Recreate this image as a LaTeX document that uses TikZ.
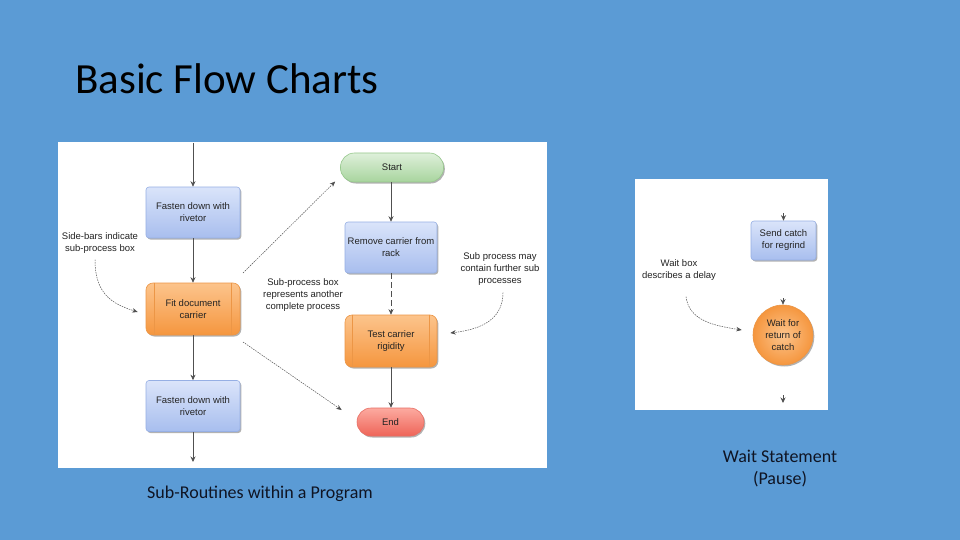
\documentclass[tikz,border=0pt]{standalone}
\usepackage{fontspec}
\setmainfont{Carlito}
\newfontfamily\diagfont{Liberation Sans}
\usetikzlibrary{arrows.meta,shadows,calc}
\definecolor{slidebg}{RGB}{91,155,213}
\definecolor{bluetop}{RGB}{218,228,250}
\definecolor{bluebot}{RGB}{168,190,238}
\definecolor{blueline}{RGB}{150,175,228}
\definecolor{orgtop}{RGB}{252,196,140}
\definecolor{orgbot}{RGB}{245,150,62}
\definecolor{orgline}{RGB}{236,150,70}
\definecolor{grntop}{RGB}{222,240,218}
\definecolor{grnbot}{RGB}{168,212,158}
\definecolor{grnline}{RGB}{150,200,140}
\definecolor{redtop}{RGB}{252,170,160}
\definecolor{redbot}{RGB}{238,100,88}
\definecolor{redline}{RGB}{232,110,100}
\definecolor{linegray}{RGB}{80,80,80}
\definecolor{txtgray}{RGB}{35,35,35}
\definecolor{captxt}{RGB}{15,20,35}
\tikzset{
  dtext/.style={font=\diagfont\fontsize{9.5}{12}\selectfont, text=txtgray, align=center, inner sep=1pt},
  shad/.style={drop shadow={shadow xshift=1.3pt, shadow yshift=-1.5pt, opacity=0.3, fill=black}},
  procbox/.style={dtext, rectangle, rounded corners=3pt, minimum width=94pt, minimum height=51pt,
    top color=bluetop, bottom color=bluebot, draw=blueline, line width=0.6pt, shad},
  subbox/.style={dtext, rectangle, rounded corners=7pt, minimum width=94pt, minimum height=52pt,
    top color=orgtop, bottom color=orgbot, draw=orgline, line width=0.6pt, shad},
  termgreen/.style={dtext, rectangle, rounded corners=14pt, minimum width=103pt, minimum height=29pt,
    top color=grntop, bottom color=grnbot, draw=grnline, line width=0.6pt, shad},
  termred/.style={dtext, rectangle, rounded corners=14pt, minimum width=67pt, minimum height=28pt,
    top color=redtop, bottom color=redbot, draw=redline, line width=0.6pt, shad},
  waitcirc/.style={dtext, circle, minimum size=60pt, inner color=orgtop, outer color=orgbot,
    draw=orgline, line width=0.6pt, shad},
  flow/.style={draw=linegray, line width=0.7pt, -{Stealth[length=5.5pt,width=5pt]}},
  annot/.style={draw=linegray, line width=0.5pt, dash pattern=on 1.5pt off 1pt, -{Stealth[length=5.5pt,width=4.5pt]}},
  longdash/.style={draw=linegray, line width=0.7pt, dash pattern=on 6pt off 3pt, -{Stealth[length=5.5pt,width=5pt]}},
  sidebar/.style={draw=orgline, line width=0.6pt}
}
\begin{document}
\begin{tikzpicture}[x=1pt,y=-1pt]
\useasboundingbox (0,0) rectangle (960,540);
\fill[slidebg] (0,0) rectangle (960,540);

% title and captions
\node[anchor=base west, inner sep=0, text=black, font=\fontsize{43}{50}\selectfont] (title) at (75,94) {Basic Flow Charts};
\node[anchor=base, inner sep=0, text=captxt, font=\fontsize{18}{22}\selectfont] (cap1) at (260,498) {Sub-Routines within a Program};
\node[anchor=center, inner sep=0, align=center, text=captxt, font=\fontsize{18}{22}\selectfont] (cap2) at (780,469) {Wait Statement\\(Pause)};

% white panels
\fill[white] (58,142) rectangle (547,468);
\fill[white] (635,179) rectangle (828,410);

% left column
\coordinate (topin) at (193,143);
\coordinate (botout) at (193,462);
\node[procbox] (fast1) at (193,212.5) {Fasten down with\\rivetor};
\node[subbox] (fit) at (193,309) {Fit document\\carrier};
\draw[sidebar] ([xshift=9pt]fit.north west) -- ([xshift=9pt]fit.south west);
\draw[sidebar] ([xshift=-9pt]fit.north east) -- ([xshift=-9pt]fit.south east);
\node[procbox] (fast2) at (193,406) {Fasten down with\\rivetor};

\draw[flow] (topin) -- (fast1.north);
\draw[flow] (fast1.south) -- (fit.north);
\draw[flow] (fit.south) -- (fast2.north);
\draw[flow] (fast2.south) -- (botout);

% right column
\node[termgreen] (start) at (392,167.5) {Start};
\node[procbox, minimum width=92pt] (remove) at (391,247.5) {Remove carrier from\\rack};
\node[subbox, minimum width=92pt] (test) at (391,341) {Test carrier\\rigidity};
\draw[sidebar] ([xshift=8pt]test.north west) -- ([xshift=8pt]test.south west);
\draw[sidebar] ([xshift=-8pt]test.north east) -- ([xshift=-8pt]test.south east);
\node[termred] (end) at (390.5,422) {End};

\draw[flow] (start.south -| remove.north) -- (remove.north);
\draw[longdash] (remove.south) -- (test.north);
\draw[flow] (test.south) -- (end.north -| test.south);

% annotations
\node[dtext] (sbnote) at (100,243) {Side-bars indicate\\sub-process box};
\node[dtext] (spnote) at (303,295) {Sub-process box\\represents another\\complete process};
\node[dtext] (furnote) at (500,269) {Sub process may\\contain further sub\\processes};

\coordinate (sbstart) at ($(sbnote.south)+(-5,5)$);
\coordinate (sbend) at ($(fit.west)+(-8,3)$);
\draw[annot] (sbstart) .. controls +(0,35) and +(-25,-8) .. (sbend);

\coordinate (spA) at (243,273);
\coordinate (spB) at ($(start.west)+(-5,14)$);
\draw[annot] (spA) -- (spB);
\coordinate (spC) at (243,342);
\coordinate (spD) at ($(end.west)+(-15,-12)$);
\draw[annot] (spC) -- (spD);

\coordinate (furstart) at ($(furnote.south)+(3,6)$);
\coordinate (furend) at ($(test.east)+(13,-8)$);
\draw[annot] (furstart) .. controls +(0,30) and +(25,-3) .. (furend);

% right panel
\node[procbox, minimum width=65pt, minimum height=39pt] (send) at (783.5,240.5) {Send catch\\for regrind};
\node[waitcirc] (wait) at (783,335) {Wait for\\return of\\catch};
\coordinate (sendin) at (783.5,213);
\coordinate (waitin) at (783,298);
\coordinate (outA) at (783,395);
\coordinate (outB) at (783,403);
\draw[flow] (sendin) -- (send.north);
\draw[flow] (waitin) -- (wait.north);
\draw[flow] (outA) -- (outB);

\node[dtext] (waitnote) at (679,270) {Wait box\\describes a delay};
\coordinate (wnstart) at ($(waitnote.south)+(7,15)$);
\coordinate (wnend) at ($(wait.west)+(-11,-5)$);
\draw[annot] (wnstart) .. controls +(3,25) and +(-25,-4) .. (wnend);
\end{tikzpicture}
\end{document}
